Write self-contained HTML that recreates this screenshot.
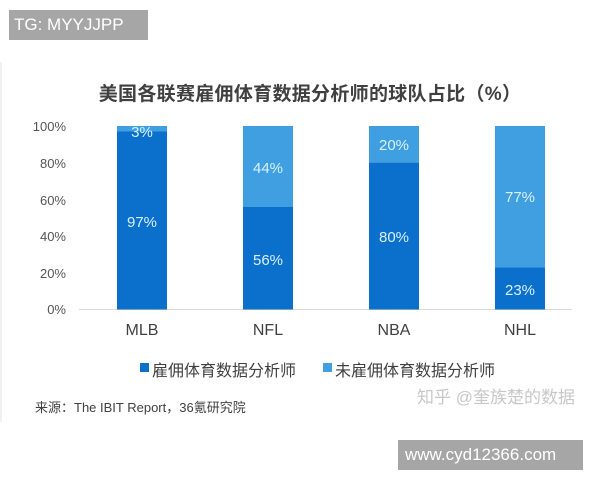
<!DOCTYPE html>
<html><head><meta charset="utf-8"><style>
body{margin:0;width:600px;height:480px;background:#fff;overflow:hidden;position:relative;font-family:"Liberation Sans","Noto Sans CJK SC",sans-serif}
.a{position:absolute}
</style></head><body>
<div class="a" style="left:0;top:62px;width:596px;height:360px;background:#fff;border-left:2px solid #f0f0f0"></div>
<div class="a" style="left:9px;top:10px;width:134px;height:30px;background:#a6a6a6;color:#fff;font-size:17px;line-height:30px;padding-left:5px">TG: MYYJJPP</div>
<div class="a" style="left:0;width:620px;top:79px;text-align:center;font-size:19px;font-weight:bold;color:#404040;letter-spacing:0.3px">美国各联赛雇佣体育数据分析师的球队占比（%）</div>
<svg class="a" style="left:0;top:0" width="600" height="480">
<g font-family="Liberation Sans, sans-serif" font-size="13" fill="#555" text-anchor="end">
<text x="66" y="131">100%</text><text x="66" y="168">80%</text><text x="66" y="205">60%</text><text x="66" y="241">40%</text><text x="66" y="278">20%</text><text x="66" y="314">0%</text>
</g>
<line x1="79" y1="309.5" x2="572" y2="309.5" stroke="#d9d9d9"/>
<g>
<rect x="117" y="126" width="50" height="5.5" fill="#3f9fe0"/><rect x="117" y="131.5" width="50" height="178" fill="#0b6fcc"/>
<rect x="243" y="126" width="50" height="81" fill="#3f9fe0"/><rect x="243" y="207" width="50" height="102.5" fill="#0b6fcc"/>
<rect x="369" y="126" width="50" height="36.6" fill="#3f9fe0"/><rect x="369" y="162.6" width="50" height="146.9" fill="#0b6fcc"/>
<rect x="495" y="126" width="50" height="141.3" fill="#3f9fe0"/><rect x="495" y="267.3" width="50" height="42.2" fill="#0b6fcc"/>
</g>
<g font-family="Liberation Sans, sans-serif" font-size="15" fill="#d8f2ff" text-anchor="middle">
<text x="142" y="137">3%</text><text x="142" y="227">97%</text>
<text x="268" y="173">44%</text><text x="268" y="265">56%</text>
<text x="394" y="150">20%</text><text x="394" y="242">80%</text>
<text x="520" y="202">77%</text><text x="520" y="295">23%</text>
</g>
<g font-family="Liberation Sans, sans-serif" font-size="16" fill="#404040" text-anchor="middle">
<text x="142" y="335">MLB</text><text x="268" y="335">NFL</text><text x="394" y="335">NBA</text><text x="520" y="335">NHL</text>
</g>
<rect x="140" y="363" width="9" height="9" fill="#0b6fcc"/>
<rect x="323" y="363" width="9" height="9" fill="#3f9fe0"/>
</svg>
<div class="a" style="left:152px;top:357px;font-size:16px;color:#404040">雇佣体育数据分析师</div>
<div class="a" style="left:335px;top:357px;font-size:16px;color:#404040">未雇佣体育数据分析师</div>
<div class="a" style="left:417px;top:383px;font-size:17px;color:#c8c8c8">知乎 @奎族楚的数据</div>
<div class="a" style="left:35px;top:397px;font-size:13px;color:#404040">来源：The IBIT Report，36氪研究院</div>
<div class="a" style="left:398px;top:440px;width:178px;height:30px;background:#a6a6a6;color:#fff;font-size:17px;line-height:30px;padding-left:7px">www.cyd12366.com</div>
</body></html>
